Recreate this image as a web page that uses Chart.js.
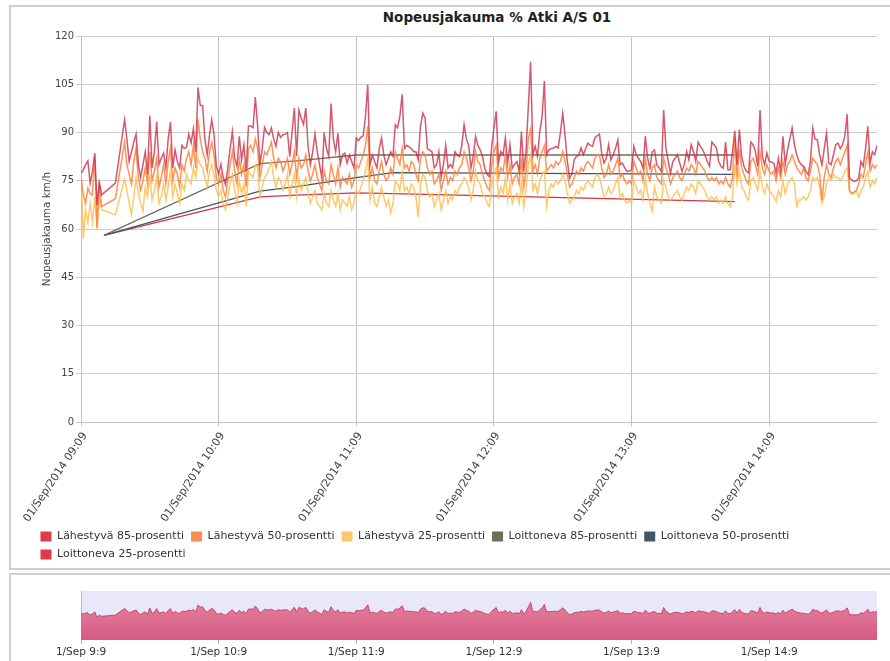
<!DOCTYPE html>
<html>
<head>
<meta charset="utf-8">
<script src="https://cdn.jsdelivr.net/npm/chart.js@4.4.1/dist/chart.umd.min.js"></script>
<style>
html, body { margin: 0; padding: 0; width: 890px; height: 661px; overflow: hidden; background: #fff; font-family: "DejaVu Sans", sans-serif; }
#mainBox { position: absolute; left: 9px; top: 5px; width: 879px; height: 561px; border-left: 2px solid #cfcfcf; border-top: 2px solid #cfcfcf; border-bottom: 2px solid #cfcfcf; }
#navBox { position: absolute; left: 9px; top: 573px; width: 879px; height: 86px; border-left: 2px solid #cfcfcf; border-top: 2px solid #cfcfcf; }
#title { position: absolute; left: 297px; top: 9px; width: 400px; text-align: center; font-weight: bold; font-size: 13.5px; color: #222; }
#mainWrap { position: absolute; left: 10px; top: 6px; width: 880px; height: 564px; }
#navWrap { position: absolute; left: 10px; top: 574px; width: 880px; height: 87px; }
</style>
</head>
<body>
<div id="mainBox"></div>
<div id="navBox"></div>
<div id="title">Nopeusjakauma % Atki A/S 01</div>
<div id="mainWrap"><canvas id="chart"></canvas></div>
<div id="navWrap"><canvas id="nav"></canvas></div>
<script>
// minutes after 01/Sep/2014 09:09, one reading per minute
const lah85 = [
  77.4, 78.4, 80, 81.2, 74.3, 78, 83.6, 67.5, 74.3, 70.6,
  null, null, null, null, null, 74.3, null, null, null, 94,
  88, 81, 84, 87, 89.5, 80, 76, 80, 84, 77,
  95.3, 79, 84, 93.4, 80, 82, 83.6, 79, 88, 93.2,
  79, 84.6, 81, 79, 86, 85, 85.5, 89.5, 86.7, 91.2,
  84, 104, 98.4, 98.4, 88, 83, 89, 94, 89.3, 79.5,
  77, 80.2, 76, 73.8, 79, 85, 90.3, 82, 79.5, 88.8,
  81.5, 86.2, 78, 92, 92, 91.5, 101, 92, 80, 85,
  91.6, 90, 89.3, 91.4, 88, 85.7, 90, 88.5, 89.3, 89.5,
  90, 82.5, 90, 97.6, 82.6, 97, 94.5, 92.5, 97.6, 85.5,
  80, 84, 89.5, 84, 80, 75.8, 90, 85, 82.6, 99,
  88, 84, 89.8, 80, 83, 83.6, 80.5, 83, 81, 79,
  88.3, 87.5, 88.5, 89, 95, 104.8, 80, 83, 81, 79,
  85, 88.3, 83, 80, 82, 84, 82.6, 92.4, 91.5, 95,
  101.9, 85, 86, 85.5, 85, 84, 84, 81.5, 92, 96,
  94.5, 85, 84.5, 84, 79, 80, 84, 76, 80, 86,
  79, 80, 79, 84, 83, 82.5, 86, 92.4, 88, 86,
  79, 82.6, 88.8, 86, 84.6, 82.6, 78.9, 77, 76.3, 85.2,
  91.4, 96.6, 80.5, 84.1, 83.1, 88.3, 80.5, 86.2, 78.9, 80,
  81, 77.9, 90.3, 77.9, 84.1, 98, 112, 83.1, 85.7, 82.6,
  90.3, 95, 106, 83.1, 84.6, 85, 85.2, 85.7, 85.2, 90,
  96, 89.3, 81, 75.8, 77, 81.5, 82.6, 83, 85.2, 83.1,
  85, 86.7, 86, 85.7, 88.3, 89, 89.5, 83.6, 80.5, 82,
  86.2, 81.5, 83.1, 85, 87.7, 80, 80.5, 79, 77.9, 78,
  78.4, 85.7, 83.1, 82, 81, 78.9, 88.8, 82, 78.9, 84,
  84.6, 80, 79, 77.9, 97, 85, 81, 77.4, 81, 82,
  83.1, 80.5, 77.9, 80, 84.1, 81.5, 86.2, 84.1, 81, 87,
  85.7, 84.6, 83.1, 81, 79.5, 87, 86.2, 85.2, 81, 79.5,
  78.9, 87, 78.4, 78.4, 84, 90.5, 80, 90.9, 82.6, 79.5,
  78, 77.4, 87, 86.2, 84.1, 79.5, 97, 82.6, 80, 83.6,
  81, 80.8, 80.5, 77.4, 82, 78, 88.8, 80, 84.6, 88,
  91.4, 86.2, 83.1, 81, 80, 79.5, 78, 76.9, 81, 91.4,
  88, 87.7, 83, 80, 85, 89.8, 80.5, 80, 83, 86.2,
  86.7, 85, 86.2, 89, 95.7, 75.8, 75.3, 74.8, 75, 75.8,
  81, 79.5, 85, 91.9, 80.5, 84, 83.1, 86
];
const lah50 = [
  76, 70.6, 68, 72.7, 71, 70.6, 82.6, 60.5, 74.8, 67,
  null, null, null, null, null, 69.4, null, null, null, 87,
  80, 77, 74, 81, 85, 76, 72, 75, 79, 74,
  84, 75, 78, 82, 73, 76, 80, 74, 81, 85,
  75, 79, 77, 73, 80, 78, 82, 84, 80, 86,
  79, 94, 88, 84, 82, 78, 84, 87, 83, 76,
  74, 77, 72, 70, 75, 80, 84, 78, 74, 82,
  77, 80, 73, 85, 86, 84, 88, 85, 76, 80,
  84, 83, 85, 87, 82, 79, 82, 81, 78, 80,
  82, 77, 80, 84, 76, 82, 79, 80, 83, 78,
  75, 77, 80, 76, 74, 72, 78, 75, 74, 80,
  77, 74, 79, 73, 76, 75, 74, 77, 73, 75,
  80, 79, 81, 83, 86, 92, 76, 79, 75, 74,
  78, 81, 77, 75, 76, 79, 77, 84, 82, 80,
  85, 79, 80, 78, 81, 80, 77, 75, 82, 84,
  83, 79, 77, 78, 74, 75, 77, 72, 75, 78,
  74, 76, 75, 78, 77, 79, 80, 84, 82, 79,
  75, 78, 84, 81, 80, 77, 75, 73, 72, 79,
  84, 86, 76, 79, 78, 83, 76, 80, 74, 76,
  77, 74, 82, 73, 78, 88, 91, 78, 80, 77,
  82, 84, 86, 78, 79, 80, 79, 81, 80, 81,
  84, 81, 77, 73, 74, 76, 78, 77, 79, 78,
  80, 81, 80, 79, 82, 83, 83, 79, 76, 77,
  80, 77, 78, 80, 82, 76, 77, 75, 74, 75,
  74, 81, 79, 77, 78, 75, 82, 77, 75, 79,
  80, 76, 75, 74, 82, 79, 77, 74, 76, 77,
  78, 76, 75, 77, 79, 78, 80, 79, 77, 81,
  80, 79, 78, 76, 75, 76, 75, 76, 74, 75,
  74, 76, 74, 73, 76, 88, 76, 85, 79, 77,
  75, 74, 81, 82, 80, 77, 84, 79, 77, 80,
  78, 77, 78, 75, 79, 76, 81, 77, 80, 81,
  83, 81, 79, 78, 77, 79, 76, 75, 78, 82,
  81, 80, 77, 69, 76, 80, 77, 76, 79, 81,
  82, 80, 82, 84, 86, 72, 71, 71.5, 72, 74,
  77, 76, 80, 84, 78, 80, 79, 80
];
const lah25 = [
  80, 57, 66, 62, 68, 62, 70, 60, 70, 66,
  null, null, null, null, null, 64.4, null, null, null, 75.5,
  72, 68, 64.5, 70, 76, 71, 68, 65.5, 73, 70,
  77, 69, 72, 76, 68, 70, 74, 69, 73, 78,
  70, 74, 71, 68, 74, 72, 77, 75, 74, 79,
  76, 82, 80, 79, 76, 73, 78, 80, 77, 72,
  70, 72, 68, 66, 70, 74, 77, 72, 68, 75,
  71, 74, 67, 78, 77, 76, 80, 79, 70, 73,
  76, 77, 79, 81, 76, 73, 76, 75, 72, 74,
  77, 70, 74, 77, 70, 76, 72, 74, 76, 71,
  68, 70, 72, 68, 67, 66, 71, 68, 67, 72,
  69, 67, 71, 66, 69, 68, 67, 70, 66, 68,
  72, 71, 73, 75, 78, 82, 69, 73, 68, 67,
  70, 73, 70, 67, 69, 65, 68, 75, 74, 72,
  78, 72, 73, 71, 74, 73, 70, 63.7, 74, 77,
  76, 72, 70, 71, 67, 69, 71, 66, 69, 72,
  68, 70, 69, 72, 71, 73, 74, 76, 75, 73,
  69, 72, 78, 75, 74, 71, 70, 68, 67, 73,
  77, 79, 70, 73, 71, 76, 69, 74, 68, 70,
  71, 68, 75, 67, 72, 80, 83, 72, 74, 71,
  75, 77, 78, 67, 72, 74, 73, 75, 74, 75,
  77, 75, 71, 68, 69, 70, 72, 71, 73, 72,
  74, 75, 74, 73, 76, 77, 76, 73, 70, 71,
  73, 71, 72, 74, 76, 70, 71, 69, 68, 69,
  68, 75, 73, 71, 72, 69, 76, 71, 68, 65.5,
  73, 70, 69, 68, 75, 73, 70, 69, 70, 71,
  72, 70, 69, 71, 73, 72, 74, 73, 71, 75,
  74, 73, 72, 70, 69, 70, 69, 70, 68, 69,
  68, 70, 68, 67, 70, 80, 74, 78, 73, 72,
  70, 69, 75, 76, 74, 72, 78, 73, 71, 74,
  72, 71, 70, 68.6, 72, 70, 75, 71, 74, 75,
  76, 74, 67, 69, 69, 70, 69, 70, 72, 76,
  75, 76, 73, 68, 70, 74, 76, 75, 77, 76,
  76, 75, 76, 78, 79, 72, 71, 71, 72, 70,
  72, 73, 76, 78, 73, 75, 74, 76
];

// Loittoneva has only a few readings
const loitMinutes = [10, 78, 94, 120, 136, 285];
const loit85 = [58, 80.3, 81.2, 83, 83, 83];
const loit50 = [58, 71.8, 73.2, 76, 77.5, 77];
const loit25 = [58, 70, 70.5, 71.2, 71, 68.5];

const seriesNames = ['Lähestyvä 85-prosentti', 'Lähestyvä 50-prosentti', 'Lähestyvä 25-prosentti',
  'Loittoneva 85-prosentti', 'Loittoneva 50-prosentti', 'Loittoneva 25-prosentti'];

const xTickMinutes = [0, 60, 120, 180, 240, 300];
const xTickLabels = ['01/Sep/2014 09:09', '01/Sep/2014 10:09', '01/Sep/2014 11:09',
  '01/Sep/2014 12:09', '01/Sep/2014 13:09', '01/Sep/2014 14:09'];
const navTickLabels = ['1/Sep 9:9', '1/Sep 10:9', '1/Sep 11:9', '1/Sep 12:9', '1/Sep 13:9', '1/Sep 14:9'];
const yTicks = { min: 0, max: 120, step: 15 };
const lastMinute = 347;

const lineColors = ['rgba(204,40,66,0.78)', 'rgba(255,128,56,0.85)', 'rgba(255,190,80,0.85)', '#6e7157', '#3e5564', '#cf3447'];
const boxColors = ['#de3c4b', '#fd8d4f', '#fdc86b', '#6d6f56', '#405664', '#dc3a4c'];

Chart.defaults.font.family = '"DejaVu Sans", sans-serif';
Chart.defaults.color = '#444';

function perMinute(values) {
  return values.map((v, i) => ({ x: i, y: v }));
}
function atMinutes(values) {
  return values.map((v, i) => ({ x: loitMinutes[i], y: v }));
}
function lineSet(idx, points, width) {
  return {
    label: seriesNames[idx],
    data: points,
    borderColor: lineColors[idx],
    backgroundColor: boxColors[idx],
    borderWidth: width,
    pointRadius: 0,
    spanGaps: true,
    tension: 0
  };
}
function fixedTicks(scale) {
  scale.ticks = xTickMinutes.map(v => ({ value: v }));
}
function noPad(scale) {
  scale.paddingLeft = 0; scale.paddingRight = 0; scale.paddingTop = 0; scale.paddingBottom = 0;
}

new Chart(document.getElementById('chart'), {
  type: 'line',
  data: {
    datasets: [
      lineSet(0, perMinute(lah85), 1.5),
      lineSet(1, perMinute(lah50), 1.5),
      lineSet(2, perMinute(lah25), 1.5),
      lineSet(3, atMinutes(loit85), 1.3),
      lineSet(4, atMinutes(loit50), 1.3),
      lineSet(5, atMinutes(loit25), 1.3)
    ]
  },
  options: {
    responsive: true,
    maintainAspectRatio: false,
    animation: false,
    devicePixelRatio: 1,
    layout: { padding: { left: 23.5, right: 13, top: 30, bottom: 0 } },
    plugins: {
      tooltip: { enabled: false },
      legend: {
        position: 'bottom',
        align: 'start',
        labels: {
          boxWidth: 11,
          boxHeight: 10,
          padding: 7,
          color: '#333',
          font: { size: 11 },
          generateLabels: chart => Chart.defaults.plugins.legend.labels.generateLabels(chart)
            .map(l => Object.assign(l, { lineWidth: 0 }))
        }
      }
    },
    scales: {
      x: {
        type: 'linear',
        min: 0,
        max: lastMinute,
        afterBuildTicks: fixedTicks,
        afterFit: s => { s.height = 102; noPad(s); },
        ticks: {
          autoSkip: false,
          minRotation: 56,
          maxRotation: 56,
          padding: 4,
          labelOffset: 4,
          color: '#444',
          font: { size: 11 },
          callback: (v, i) => xTickLabels[i]
        },
        grid: { color: '#c2c2c2', tickLength: 4 },
        border: { color: '#c2c2c2' }
      },
      y: {
        min: yTicks.min,
        max: yTicks.max,
        afterFit: s => { s.width = 47.5; noPad(s); },
        ticks: { stepSize: yTicks.step, padding: 2, color: '#444', font: { size: 10 } },
        title: {
          display: true,
          text: 'Nopeusjakauma km/h',
          color: '#444',
          font: { size: 10.5 },
          padding: { top: 7, bottom: 0 }
        },
        grid: { color: '#cccccc', tickLength: 5 },
        border: { color: '#c2c2c2' }
      }
    }
  }
});

// navigator strip below the main chart
new Chart(document.getElementById('nav'), {
  type: 'line',
  data: {
    datasets: [{
      data: perMinute(lah85),
      borderColor: '#c8456b',
      borderWidth: 1,
      pointRadius: 0,
      spanGaps: true,
      fill: 'origin',
      backgroundColor: ctx => {
        const a = ctx.chart.chartArea;
        if (!a) return '#dd6f92';
        const g = ctx.chart.ctx.createLinearGradient(0, a.top, 0, a.bottom);
        g.addColorStop(0, '#e88aa5');
        g.addColorStop(1, '#d65a82');
        return g;
      }
    }]
  },
  options: {
    responsive: true,
    maintainAspectRatio: false,
    animation: false,
    devicePixelRatio: 1,
    layout: { padding: { left: 71, right: 13, top: 17, bottom: 0 } },
    plugins: { legend: { display: false }, tooltip: { enabled: false } },
    scales: {
      x: {
        type: 'linear',
        min: 0,
        max: lastMinute,
        afterBuildTicks: fixedTicks,
        afterFit: s => { s.height = 21; noPad(s); },
        ticks: {
          autoSkip: false,
          minRotation: 0,
          maxRotation: 0,
          padding: 2,
          color: '#333',
          font: { size: 10.5 },
          callback: (v, i) => navTickLabels[i]
        },
        grid: { drawOnChartArea: false, tickLength: 4, color: '#b0b0b0' },
        border: { display: false }
      },
      y: { display: false, min: 0, max: 146 }
    }
  },
  plugins: [{
    id: 'navBack',
    beforeDraw(chart) {
      const { ctx, chartArea: a } = chart;
      ctx.save();
      ctx.fillStyle = '#e8e8fa';
      ctx.fillRect(a.left, a.top, a.width, a.height);
      ctx.strokeStyle = '#b4b4c4';
      ctx.lineWidth = 1;
      ctx.beginPath();
      ctx.moveTo(a.left + 0.5, a.top);
      ctx.lineTo(a.left + 0.5, a.bottom);
      ctx.stroke();
      ctx.restore();
    }
  }]
});
</script>
</body>
</html>
